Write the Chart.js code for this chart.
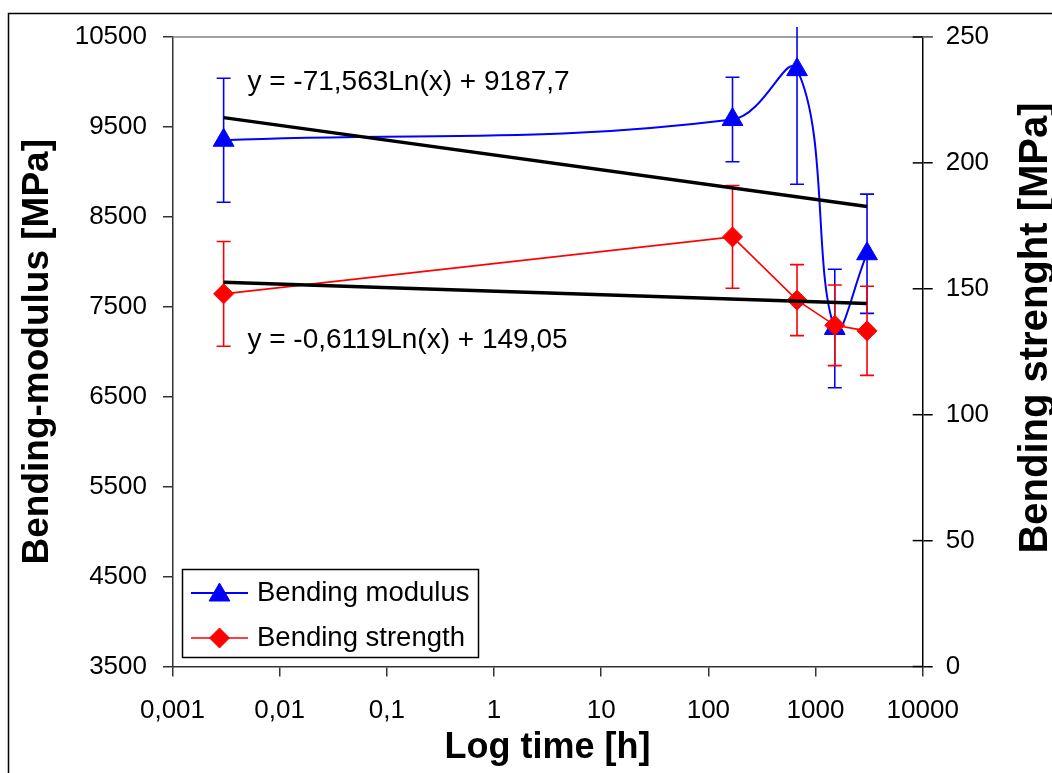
<!DOCTYPE html>
<html><head><meta charset="utf-8">
<script src="https://cdn.jsdelivr.net/npm/chart.js@4"></script>
<style>html,body{margin:0;padding:0;background:#fff}#wrap{position:relative;width:1052px;height:773px}</style>
</head><body><div id="wrap"><canvas id="c"></canvas></div>
<script>
// ---- data ----
const timeHours = [0.003, 168, 672, 1512, 3024];
const modulusMPa = [9352, 9583, 10137, 7259, 8090];
const modulusErr = [690, 470, 1274, 659, 663];
const strengthMPa = [148.0, 170.6, 145.5, 135.5, 133.3];
const strengthErr = [20.8, 20.4, 14.1, 16.0, 17.7];
const xTicks = [0.001, 0.01, 0.1, 1, 10, 100, 1000, 10000];
const xTickLabels = ['0,001', '0,01', '0,1', '1', '10', '100', '1000', '10000'];
const yTicks = [3500, 4500, 5500, 6500, 7500, 8500, 9500, 10500];
const y2Ticks = [0, 50, 100, 150, 200, 250];
const modulusTrend = [-71.563, 9187.7];   // y = a*Ln(x) + b (from chart text)
const strengthTrend = [-0.6119, 149.05];
const trendX = [0.003, 3024];
const seriesNames = ['Bending modulus', 'Bending strength'];
const eqLabels = ['y = -71,563Ln(x) + 9187,7', 'y = -0,6119Ln(x) + 149,05'];

const FONT = 'Arial, "Liberation Sans", Helvetica, sans-serif';
const BLUE = '#0000FF', RED = '#FF0000';

function pts(xs, ys) { return xs.map((x, i) => ({x, y: ys[i]})); }
function trendPts(c) { return trendX.map(x => ({x, y: c[0] * Math.log(x) + c[1]})); }

const errPlugin = {
  id: 'errbars',
  beforeDatasetDraw(chart, args) {
    const ds = chart.data.datasets[args.index];
    if (!ds.errors) return;
    const meta = args.meta, ys = chart.scales[ds.yAxisID], ca = chart.chartArea, ctx = chart.ctx;
    ctx.save();
    ctx.beginPath();
    ctx.rect(ca.left - 20, ca.top - 10, ca.right - ca.left + 40, ca.bottom - ca.top + 20);
    ctx.clip();
    ctx.strokeStyle = ds.borderColor; ctx.lineWidth = 1.6;
    ds.data.forEach((p, i) => {
      const x = meta.data[i].x;
      const yT = ys.getPixelForValue(p.y + ds.errors[i]);
      const yB = ys.getPixelForValue(p.y - ds.errors[i]);
      ctx.beginPath();
      ctx.moveTo(x, yT); ctx.lineTo(x, yB);
      ctx.moveTo(x - 7, yT); ctx.lineTo(x + 7, yT);
      ctx.moveTo(x - 7, yB); ctx.lineTo(x + 7, yB);
      ctx.stroke();
    });
    ctx.restore();
  }
};

const decoPlugin = {
  id: 'deco',
  beforeDraw(chart) {
    const ctx = chart.ctx;
    ctx.save();
    ctx.strokeStyle = '#000'; ctx.lineWidth = 1.5;
    ctx.strokeRect(8.5, 13.5, 1200, 900);
    ctx.restore();
  },
  beforeDatasetsDraw(chart) {
    const ctx = chart.ctx, ca = chart.chartArea;
    ctx.save();
    ctx.strokeStyle = '#808080'; ctx.lineWidth = 1.5;
    ctx.beginPath(); ctx.moveTo(ca.left, ca.top); ctx.lineTo(ca.right + 10, ca.top); ctx.stroke();
    ctx.restore();
  },
  afterDraw(chart) {
    const ctx = chart.ctx, ca = chart.chartArea;
    const xs = chart.scales.x, y = chart.scales.y, y2 = chart.scales.y2;
    ctx.save();
    // inner part of right axis ticks
    ctx.strokeStyle = '#000'; ctx.lineWidth = 1.5;
    y2Ticks.forEach(v => {
      const py = y2.getPixelForValue(v);
      ctx.beginPath(); ctx.moveTo(ca.right - 10, py); ctx.lineTo(ca.right, py); ctx.stroke();
    });
    // right axis title (reads bottom-to-top)
    ctx.fillStyle = '#000';
    ctx.font = 'bold 40px ' + FONT;
    ctx.textAlign = 'center'; ctx.textBaseline = 'middle';
    ctx.translate(1036, 328); ctx.rotate(-Math.PI / 2);
    ctx.fillText('Bending strenght [MPa]', 0, 0);
    ctx.setTransform(1, 0, 0, 1, 0, 0);
    // trendline equations
    ctx.font = '28px ' + FONT;
    ctx.textAlign = 'left'; ctx.textBaseline = 'alphabetic';
    ctx.fillText(eqLabels[0], xs.getPixelForValue(0.005), y.getPixelForValue(9910));
    ctx.fillText(eqLabels[1], xs.getPixelForValue(0.005), y2.getPixelForValue(126.5));
    // legend
    ctx.fillStyle = '#fff'; ctx.fillRect(182.5, 569.5, 296, 88);
    ctx.strokeStyle = '#000'; ctx.lineWidth = 1.5; ctx.strokeRect(182.5, 569.5, 296, 88);
    const ents = [chart.data.datasets[0], chart.data.datasets[1]];
    ents.forEach((ds, i) => {
      const ly = 593 + i * 45;
      ctx.strokeStyle = ds.borderColor; ctx.lineWidth = ds.borderWidth;
      ctx.beginPath(); ctx.moveTo(191, ly); ctx.lineTo(248, ly); ctx.stroke();
      ctx.fillStyle = ds.backgroundColor; ctx.lineWidth = 1;
      Chart.helpers.drawPoint(ctx, {pointStyle: ds.pointStyle, radius: ds.pointRadius, borderWidth: 1, rotation: 0}, 219.5, ly + (i === 0 ? 2 : 0));
      ctx.fillStyle = '#000'; ctx.font = '27.5px ' + FONT;
      ctx.textAlign = 'left'; ctx.textBaseline = 'middle';
      ctx.fillText(seriesNames[i], 257, ly);
    });
    ctx.restore();
  }
};

const tickFont = {family: FONT, size: 26};
new Chart(document.getElementById('c'), {
  type: 'line',
  data: {
    datasets: [
      {label: seriesNames[0], data: pts(timeHours, modulusMPa), errors: modulusErr, yAxisID: 'y',
       borderColor: BLUE, backgroundColor: BLUE, borderWidth: 2, pointStyle: 'triangle', pointRadius: 12,
       pointBorderWidth: 1, tension: 0.4, order: 3},
      {label: seriesNames[1], data: pts(timeHours, strengthMPa), errors: strengthErr, yAxisID: 'y2',
       borderColor: RED, backgroundColor: RED, borderWidth: 1.6, pointStyle: 'rectRot', pointRadius: 10,
       pointBorderWidth: 1, tension: 0, order: 2},
      {label: 'trend modulus', data: trendPts(modulusTrend), yAxisID: 'y', borderColor: '#000',
       borderWidth: 3.5, pointRadius: 0, tension: 0, order: 1},
      {label: 'trend strength', data: trendPts(strengthTrend), yAxisID: 'y2', borderColor: '#000',
       borderWidth: 3.5, pointRadius: 0, tension: 0, order: 0}
    ]
  },
  options: {
    responsive: true, maintainAspectRatio: false, animation: false, events: [],
    layout: {padding: {top: 37, left: 0, right: 0, bottom: 0}},
    plugins: {legend: {display: false}, tooltip: {enabled: false}},
    scales: {
      x: {
        type: 'logarithmic', position: 'bottom', min: 0.001, max: 10000,
        afterBuildTicks(s) { s.ticks = xTicks.map(v => ({value: v})); },
        afterFit(s) { s.height = 106.5; },
        ticks: {callback: (v, i) => xTickLabels[i], font: tickFont, color: '#000', padding: 19, maxRotation: 0, autoSkip: false},
        grid: {drawOnChartArea: false, drawTicks: true, tickLength: 10, color: '#333', lineWidth: 1.5},
        border: {display: true, color: '#333', width: 1.5},
        title: {display: true, text: 'Log time [h]', color: '#000', font: {family: FONT, size: 36, weight: 'bold'}, padding: {top: 0, bottom: 3}}
      },
      y: {
        type: 'linear', position: 'left', min: 3500, max: 10500,
        afterBuildTicks(s) { s.ticks = yTicks.map(v => ({value: v})); },
        afterFit(s) { s.width = 172.5; },
        ticks: {callback: v => String(v), font: tickFont, color: '#000', padding: 16},
        grid: {drawOnChartArea: false, drawTicks: true, tickLength: 9.5, color: '#333', lineWidth: 1.5},
        border: {display: true, color: '#333', width: 1.5},
        title: {display: true, text: 'Bending-modulus [MPa]', color: '#000', font: {family: FONT, size: 37, weight: 'bold'}, padding: {top: 16, bottom: 0}}
      },
      y2: {
        type: 'linear', position: 'right', min: 0, max: 250,
        afterBuildTicks(s) { s.ticks = y2Ticks.map(v => ({value: v})); },
        afterFit(s) { s.width = 129.3; },
        ticks: {callback: v => String(v), font: tickFont, color: '#000', padding: 13},
        grid: {drawOnChartArea: false, drawTicks: true, tickLength: 10, color: '#000', lineWidth: 1.5},
        border: {display: true, color: '#000', width: 1.5}
      }
    }
  },
  plugins: [errPlugin, decoPlugin]
});
</script>
</body></html>
